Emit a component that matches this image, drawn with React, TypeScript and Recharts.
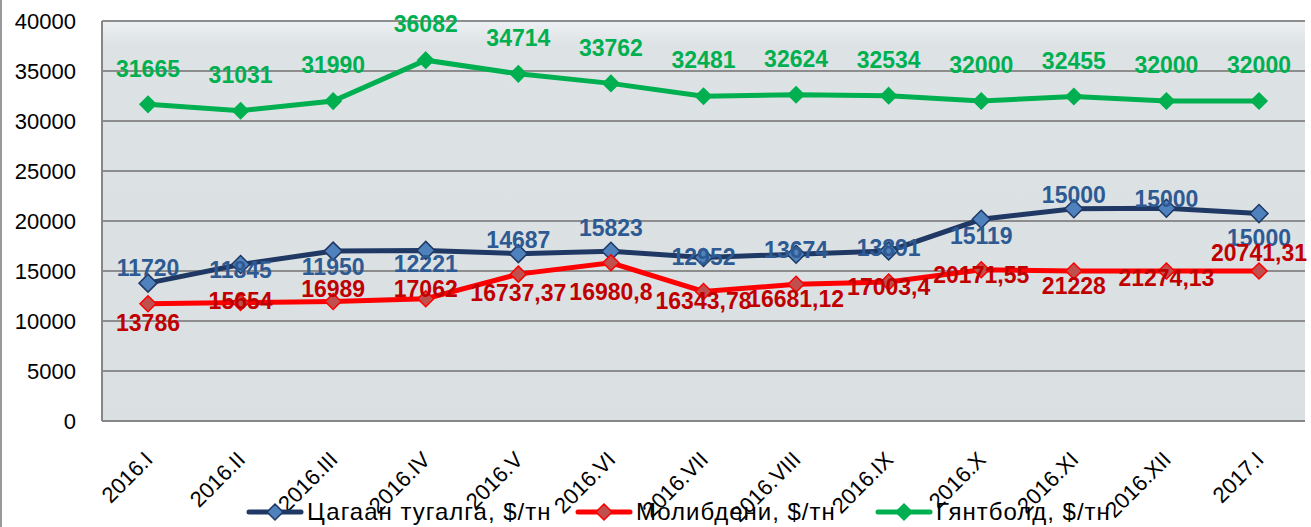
import { LineChart, Line, XAxis, YAxis, CartesianGrid, LabelList } from 'recharts'

document.body.style.margin = '0'

const categories = [
  '2016.I', '2016.II', '2016.III', '2016.IV', '2016.V', '2016.VI', '2016.VII',
  '2016.VIII', '2016.IX', '2016.X', '2016.XI', '2016.XII', '2017.I',
]

// Цагаан тугалга (blue)
const tinValues = [13786, 15654, 16989, 17062, 16737.37, 16980.8, 16343.78, 16681.12, 17003.4, 20171.55, 21228, 21274.13, 20741.31]
// Молибдени (red)
const molyValues = [11720, 11845, 11950, 12221, 14687, 15823, 12952, 13674, 13891, 15119, 15000, 15000, 15000]
// Гянтболд (green)
const tungstenValues = [31665, 31031, 31990, 36082, 34714, 33762, 32481, 32624, 32534, 32000, 32455, 32000, 32000]

const yTicks = [0, 5000, 10000, 15000, 20000, 25000, 30000, 35000, 40000]

const seriesNames = ['Цагаан тугалга, $/тн', 'Молибдени, $/тн', 'Гянтболд, $/тн']

// the source chart has the data labels of blue and red swapped
const tinLabels = molyValues.map((v) => String(v).replace('.', ','))
const molyLabels = tinValues.map((v) => String(v).replace('.', ','))
const tungstenLabels = tungstenValues.map((v) => String(v))

// vertical nudges of the labels, px from the marker
const tinLabelDy = [-15, 5, 16, 13, -14, -23, -1, -4, -3, 16, -14, -10, 24]
const molyLabelDy = [19, -2, -13, -10, 19, 29, 9, 14, 5, 5, 15, 7, -18]
const tungstenLabelDy = tungstenValues.map(() => -36)

const data = categories.map((c, i) => ({
  cat: c,
  tin: tinValues[i],
  moly: molyValues[i],
  tungsten: tungstenValues[i],
}))

const font = '"Liberation Sans", Arial, sans-serif'

const colors = {
  tin: { line: '#1f3864', fill: '#4f81bd', label: '#2e5a93' },
  moly: { line: '#ff0000', fill: '#c0504d', label: '#c00000' },
  tungsten: { line: '#00b050', fill: '#00b050', label: '#00b050' },
}

const diamond = (fill: string, stroke: string, r: number) => (p: any) => {
  const { cx, cy, index } = p
  if (cx == null || cy == null) return <g key={index} />
  return (
    <polygon
      key={index}
      points={`${cx},${cy - r} ${cx + r},${cy} ${cx},${cy + r} ${cx - r},${cy}`}
      fill={fill}
      stroke={stroke}
      strokeWidth={1.5}
    />
  )
}

const makeLabel = (texts: string[], dys: number[], color: string) => (p: any) => {
  const { x, y, index } = p
  return (
    <text
      key={index}
      x={x}
      y={y + dys[index]}
      dy="0.36em"
      textAnchor="middle"
      fill={color}
      fontSize={23}
      fontWeight="bold"
      fontFamily={font}
    >
      {texts[index]}
    </text>
  )
}

const XTick = (p: any) => {
  const { x, y, payload } = p
  const tx = x + 6
  const ty = y + 40
  return (
    <text
      x={tx}
      y={ty}
      transform={`rotate(-45 ${tx} ${ty})`}
      textAnchor="end"
      fontSize={22}
      fontFamily={font}
      fill="#000"
    >
      {payload.value}
    </text>
  )
}

const LegendIcon = ({ line, fill, stroke }: { line: string; fill: string; stroke: string }) => (
  <svg width={58} height={20} style={{ display: 'block', marginRight: 3 }}>
    <line x1={3} y1={10} x2={55} y2={10} stroke={line} strokeWidth={5} strokeLinecap="round" />
    <polygon points="29,2 37,10 29,18 21,10" fill={fill} stroke={stroke} strokeWidth={1.5} />
  </svg>
)

const legendLefts = [246, 575, 875]

export default function App() {
  const legendItems = [
    { name: seriesNames[0], line: colors.tin.line, fill: colors.tin.fill, stroke: colors.tin.line },
    { name: seriesNames[1], line: colors.moly.line, fill: colors.moly.fill, stroke: colors.moly.line },
    { name: seriesNames[2], line: colors.tungsten.line, fill: colors.tungsten.fill, stroke: colors.tungsten.line },
  ]
  return (
    <div style={{ position: 'relative', width: 1311, height: 527, background: '#fff', overflow: 'hidden' }}>
      <div style={{ position: 'absolute', left: 0, top: 0, width: 2, height: 527, background: '#9a9a9a' }} />
      <LineChart width={1311} height={527} data={data} margin={{ top: 21, right: 6, bottom: 6, left: 0 }}>
        <defs>
          <linearGradient id="plotBg" x1="0" y1="0" x2="0" y2="1">
            <stop offset="0" stopColor="#eef1f3" />
            <stop offset="0.06" stopColor="#dde2e5" />
            <stop offset="1" stopColor="#dadfe2" />
          </linearGradient>
        </defs>
        <CartesianGrid vertical={false} stroke="#8d8d8d" strokeWidth={2} fill="url(#plotBg)" fillOpacity={1} />
        <XAxis
          dataKey="cat"
          height={100}
          padding={{ left: 46, right: 46 }}
          tickLine={false}
          tickSize={0}
          tickMargin={0}
          interval={0}
          axisLine={{ stroke: '#868686', strokeWidth: 2 }}
          tick={<XTick />}
        />
        <YAxis
          width={102}
          domain={[0, 40000]}
          ticks={yTicks}
          interval={0}
          tickLine={false}
          tickSize={0}
          tickMargin={26}
          axisLine={{ stroke: '#868686', strokeWidth: 2 }}
          tick={{ fill: '#000', fontSize: 22, fontFamily: font }}
        />
        <YAxis
          yAxisId="right"
          orientation="right"
          width={0}
          domain={[0, 40000]}
          tick={false}
          tickLine={false}
          axisLine={{ stroke: '#868686', strokeWidth: 2 }}
        />
        <Line
          dataKey="tin"
          name={seriesNames[0]}
          stroke={colors.tin.line}
          strokeWidth={5}
          dot={diamond(colors.tin.fill, colors.tin.line, 9)}
          isAnimationActive={false}
        >
          <LabelList dataKey="tin" content={makeLabel(tinLabels, tinLabelDy, colors.tin.label)} />
        </Line>
        <Line
          dataKey="moly"
          name={seriesNames[1]}
          stroke={colors.moly.line}
          strokeWidth={5}
          dot={diamond(colors.moly.fill, colors.moly.line, 8)}
          isAnimationActive={false}
        >
          <LabelList dataKey="moly" content={makeLabel(molyLabels, molyLabelDy, colors.moly.label)} />
        </Line>
        <Line
          dataKey="tungsten"
          name={seriesNames[2]}
          stroke={colors.tungsten.line}
          strokeWidth={5}
          dot={diamond(colors.tungsten.fill, colors.tungsten.line, 8)}
          isAnimationActive={false}
        >
          <LabelList dataKey="tungsten" content={makeLabel(tungstenLabels, tungstenLabelDy, colors.tungsten.label)} />
        </Line>
      </LineChart>
      {legendItems.map((it, i) => (
        <div
          key={it.name}
          style={{
            position: 'absolute',
            left: legendLefts[i],
            top: 498,
            display: 'flex',
            alignItems: 'center',
            fontFamily: font,
            fontSize: 24,
            letterSpacing: 1,
            color: '#000',
            whiteSpace: 'nowrap',
          }}
        >
          <LegendIcon line={it.line} fill={it.fill} stroke={it.stroke} />
          <span>{it.name}</span>
        </div>
      ))}
    </div>
  )
}
